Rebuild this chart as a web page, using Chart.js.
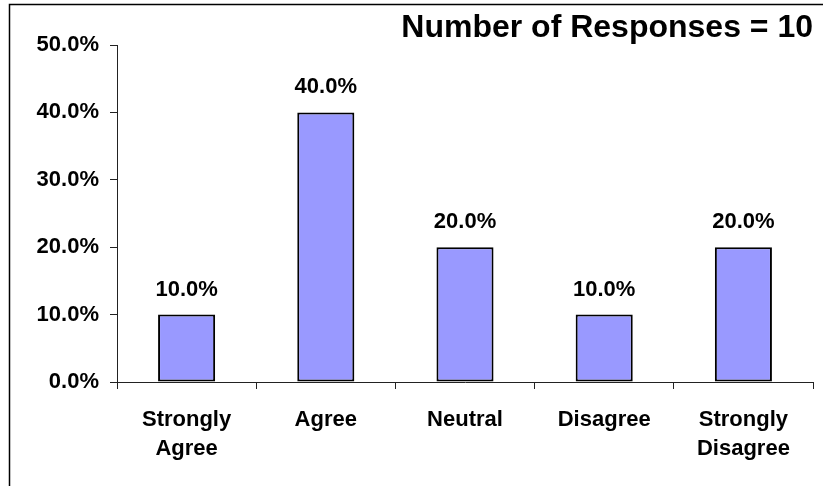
<!DOCTYPE html>
<html>
<head>
<meta charset="utf-8">
<script src="https://cdn.jsdelivr.net/npm/chart.js@4"></script>
<style>
html,body{margin:0;padding:0;background:#fff;}
#wrap{width:823px;height:486px;position:relative;}
</style>
</head>
<body>
<div id="wrap"><canvas id="c" width="823" height="486"></canvas></div>
<script>
const categories = [["Strongly","Agree"], "Agree", "Neutral", "Disagree", ["Strongly","Disagree"]];
const percentValues = [10.0, 40.0, 20.0, 10.0, 20.0];
const yTickValues = [0, 10, 20, 30, 40, 50];
const titleText = "Number of Responses = 10";

const FONT = "'Liberation Sans', Arial, sans-serif";

const framePlugin = {
  id: 'frame',
  beforeDraw(chart) {
    const ctx = chart.ctx;
    ctx.save();
    ctx.fillStyle = '#fff';
    ctx.fillRect(0, 0, chart.width, chart.height);
    ctx.strokeStyle = '#000';
    ctx.lineWidth = 1.5;
    ctx.strokeRect(9.5, 4.5, 1000, 1000);
    ctx.restore();
  }
};

const labelPlugin = {
  id: 'barLabels',
  afterDatasetsDraw(chart) {
    const ctx = chart.ctx;
    const meta = chart.getDatasetMeta(0);
    ctx.save();
    ctx.font = "bold 22px " + FONT;
    ctx.fillStyle = '#000';
    ctx.textAlign = 'center';
    ctx.textBaseline = 'middle';
    meta.data.forEach((bar, i) => {
      ctx.fillText(percentValues[i].toFixed(1) + '%', bar.x, bar.y - 25);
    });
    ctx.restore();
  }
};

new Chart(document.getElementById('c'), {
  type: 'bar',
  data: {
    labels: categories,
    datasets: [{
      data: percentValues,
      backgroundColor: '#9999FF',
      borderColor: '#000',
      borderWidth: 2,
      borderSkipped: false,
      barPercentage: 0.41,
      categoryPercentage: 1.0
    }]
  },
  options: {
    responsive: false,
    animation: false,
    devicePixelRatio: 1,
    layout: { padding: { left: 0, right: 10, top: 0, bottom: 0 } },
    plugins: {
      legend: { display: false },
      tooltip: { enabled: false },
      title: {
        display: true,
        text: titleText,
        align: 'end',
        color: '#000',
        font: { family: FONT, size: 32, weight: 'bold', lineHeight: 1.0 },
        padding: { top: 12, bottom: 1 }
      }
    },
    scales: {
      x: {
        offset: true,
        grid: { display: true, drawOnChartArea: false, drawTicks: true, tickLength: 7, color: '#222', offset: true },
        border: { display: true, color: '#222', width: 1 },
        ticks: {
          color: '#000',
          font: { family: FONT, size: 22, weight: 'bold', lineHeight: 1.3 },
          padding: 17,
          maxRotation: 0,
          autoSkip: false
        },
        afterFit(scale) { scale.height = 104; }
      },
      y: {
        min: 0,
        max: 50,
        afterBuildTicks(scale) { scale.ticks = yTickValues.map(v => ({ value: v })); },
        grid: { display: true, drawOnChartArea: false, drawTicks: true, tickLength: 7, color: '#222' },
        border: { display: true, color: '#222', width: 1 },
        ticks: {
          color: '#000',
          font: { family: FONT, size: 22, weight: 'bold' },
          padding: 11,
          callback: v => v.toFixed(1) + '%'
        },
        afterFit(scale) { scale.width = 117; }
      }
    }
  },
  plugins: [framePlugin, labelPlugin]
});
</script>
</body>
</html>
